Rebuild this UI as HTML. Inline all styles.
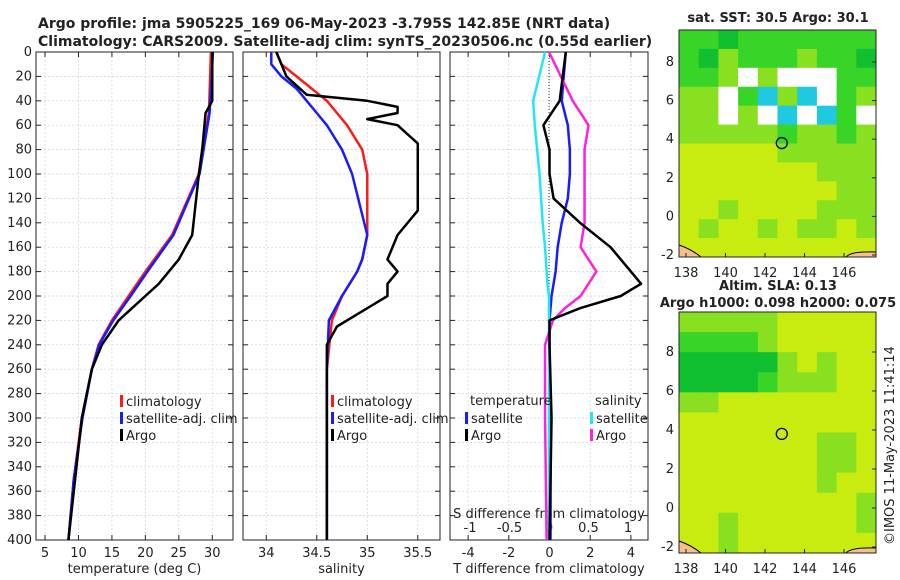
<!DOCTYPE html>
<html><head><meta charset="utf-8"><style>
html,body{margin:0;background:#fff;overflow:hidden;width:900px;height:580px;}
svg{font-family:"DejaVu Sans","Liberation Sans",sans-serif;display:block;}
</style></head><body>
<svg id="c" width="900" height="580" xmlns="http://www.w3.org/2000/svg"></svg>
<script>
// ---- data ----
const depthsT=[0,40,50,80,100,150,170,190,200,220,240,260,300,400];
const tempArgo=[30,30,29,28.5,28,27,25,22,20,16,13.5,12,10.5,8.5];
const depthsC=[0,50,80,100,150,180,200,220,240,260,300,350,400];
const tempClim=[29.8,29.5,28.5,28,24,20,17.5,15,13,12,10.5,9.3,8.5];
const tempSat=[30.1,29.6,28.7,28.1,24.2,20.3,17.8,15.2,13.1,12,10.6,9.3,8.5];
const depthsSA=[0,20,35,40,45,50,55,60,75,100,130,150,170,180,190,200,215,225,240,260,280,320,400];
const salArgo=[34.1,34.2,34.4,35.0,35.3,35.3,35.0,35.3,35.5,35.5,35.5,35.3,35.2,35.3,35.2,35.2,34.9,34.7,34.6,34.6,34.6,34.6,34.6];
const depthsSC=[0,10,20,30,40,50,60,80,100,150,170,180,200,220,260,400];
const salClim=[34.1,34.15,34.3,34.45,34.6,34.7,34.8,34.95,35.0,35.0,34.95,34.9,34.75,34.65,34.6,34.6];
const salSat=[34.05,34.05,34.15,34.3,34.4,34.5,34.6,34.75,34.85,35.0,34.95,34.9,34.75,34.62,34.6,34.6];
const depthsD=[0,40,60,80,100,120,140,160,180,190,200,210,220,240,300,400];
const tdiffArgo=[0.8,0.5,-0.3,0,0,0.2,1.5,3,4,4.5,3.5,1.5,0,0,0.1,0];
const tdiffSat=[0.8,0.6,0.9,1.0,1.0,0.9,0.6,0.4,0.3,0.2,0.1,0.05,0,0,0.05,0.05];
const sdiffSat=[-0.05,-0.2,-0.18,-0.15,-0.12,-0.1,-0.08,-0.05,-0.03,-0.02,0,0,0,0,0,0];
const sdiffArgo=[0,0.3,0.5,0.45,0.45,0.45,0.45,0.4,0.6,0.5,0.4,0.2,0.05,-0.05,-0.05,-0.03];
const depthTicks=[0,20,40,60,80,100,120,140,160,180,200,220,240,260,280,300,320,340,360,380,400];
const tempTicks=[5,10,15,20,25,30];
const salTicks=[34,34.5,35,35.5];
const tdTicks=[-4,-2,0,2,4];
const sdTicks=[-1,-0.5,0,0.5,1];
const lonTicks=[138,140,142,144,146];
const latTicks=[-2,0,2,4,6,8];
// map cells (color class) rows top->bottom, cols west->east
const sstGrid=[
[2,2,1,2,2,2,2,2,2,2],[2,1,3,2,2,2,3,2,2,1],[2,2,3,0,3,0,0,0,2,2],[3,3,0,2,5,3,5,0,2,3],
[3,3,0,3,0,5,0,5,2,0],[3,3,3,3,3,2,3,3,2,3],[4,4,4,4,4,3,3,3,3,3],[4,4,4,4,4,4,4,3,3,3],
[4,4,4,4,4,4,4,4,3,3],[4,4,3,4,4,4,4,3,3,3],[4,3,4,4,3,4,3,3,4,3],[4,4,4,4,4,4,4,4,4,4]];
const slaGrid=[
[3,3,3,3,3,4,4,4,4,4],[2,2,2,2,3,4,4,4,4,4],[1,1,1,1,1,3,4,3,4,4],[1,1,1,1,2,3,3,3,4,4],
[3,3,4,4,4,4,4,4,4,4],[4,4,4,4,4,4,4,4,4,4],[4,4,4,4,4,4,4,3,3,4],[4,4,4,4,4,4,4,3,3,4],
[4,4,4,4,4,4,4,3,4,4],[4,4,4,4,4,4,4,4,4,3],[4,4,3,4,4,4,4,4,4,3],[4,4,3,4,4,4,4,4,4,4]];
const mapColors=["#ffffff","#10c030","#38d428","#88e020","#c8ec10","#20c8e0"];

const S=document.getElementById('c');const NS="http://www.w3.org/2000/svg";
function el(t,a,p){const e=document.createElementNS(NS,t);for(const k in a)e.setAttribute(k,a[k]);(p||S).appendChild(e);return e;}
function txt(x,y,s,o){const e=el('text',Object.assign({x:x,y:y,'font-size':13,fill:'#222'},o||{}));e.textContent=s;return e;}
const Y0=52,Y1=540;const yD=d=>Y0+(Y1-Y0)*d/400;
function panel(name,x0,x1,dmin,dmax,ticks,label,showY){
  const g=el('g',{});
  
  
  const xs=v=>x0+(x1-x0)*(v-dmin)/(dmax-dmin);
  for(const d of depthTicks){
    el('line',{x1:x0,x2:x1,y1:yD(d),y2:yD(d),stroke:'#c8d0e8','stroke-dasharray':'2,2','stroke-width':0.7},g);
    el('line',{x1:x0,x2:x0+5,y1:yD(d),y2:yD(d),stroke:'#222'},g);
    el('line',{x1:x1,x2:x1-5,y1:yD(d),y2:yD(d),stroke:'#222'},g);
    if(showY){const t=txt(x0-4,yD(d)+4,String(d),{'text-anchor':'end'});}
  }
  for(const v of ticks){
    el('line',{x1:xs(v),x2:xs(v),y1:Y0,y2:Y1,stroke:'#c8d0e8','stroke-dasharray':'2,2','stroke-width':0.7},g);
    el('line',{x1:xs(v),x2:xs(v),y1:Y1,y2:Y1-5,stroke:'#222'},g);
    el('line',{x1:xs(v),x2:xs(v),y1:Y0,y2:Y0+5,stroke:'#222'},g);
    const t=txt(xs(v),557,String(v),{'text-anchor':'middle'});
    
  }
  el('rect',{x:x0,y:Y0,width:x1-x0,height:Y1-Y0,fill:'none',stroke:'#222'},g);
  const l=txt((x0+x1)/2,573,label,{'text-anchor':'middle'});
  
  return xs;
}
function line(xs,vals,deps,col,w,name){
  const p=el('polyline',{points:vals.map((v,i)=>xs(v)+','+yD(deps[i])).join(' '),fill:'none',stroke:col,'stroke-width':w,'stroke-linejoin':'round'});
  
}
// titles
let t1=txt(38,28,'Argo profile: jma 5905225_169 06-May-2023 -3.795S 142.85E (NRT data)',{'font-weight':'bold','font-size':14});

let t2=txt(38,46,'Climatology: CARS2009. Satellite-adj clim: synTS_20230506.nc (0.55d earlier)',{'font-weight':'bold','font-size':14});


const xT=panel('temperature-panel',36,233,3.65,33.1,tempTicks,'temperature (deg C)',true);
line(xT,tempClim,depthsC,'#ff1a1a',2.5,'temp-climatology-line');
line(xT,tempSat,depthsC,'#1a1aff',2.5,'temp-satellite-line');
line(xT,tempArgo,depthsT,'#000',2.5,'temp-argo-line');
function legend(x,y,items,name){
  items.forEach((it,i)=>{
    const r=el('rect',{x:x,y:y+i*17-10,width:3,height:12,fill:it[1]});
    
    const t=txt(x+6,y+i*17+1,it[0]);
  });
}
legend(120,405,[['climatology','#ff1a1a'],['satellite-adj. clim','#1a1aff'],['Argo','#000']],'temp-legend');

const xS=panel('salinity-panel',243,440,33.77,35.72,salTicks,'salinity',false);
line(xS,salClim,depthsSC,'#ff1a1a',2.5,'sal-climatology-line');
line(xS,salSat,depthsSC,'#1a1aff',2.5,'sal-satellite-line');
line(xS,salArgo,depthsSA,'#000',2.5,'sal-argo-line');
legend(331,405,[['climatology','#ff1a1a'],['satellite-adj. clim','#1a1aff'],['Argo','#000']],'sal-legend');

const xD=panel('difference-panel',450,648,-4.89,4.84,tdTicks,'T difference from climatology',false);
const xSD=v=>549+79*v;
for(const v of sdTicks){const t=txt(xSD(v),532,String(v),{'text-anchor':'middle'});}
let sl=txt(549,518,'S difference from climatology',{'text-anchor':'middle'});
el('line',{x1:549,x2:549,y1:Y0,y2:Y1,stroke:'#333','stroke-dasharray':'1,2'});
line(xD,tdiffSat,depthsD,'#1a1aff',2.5,'tdiff-satellite-line');
line(xSD,sdiffSat,depthsD,'#20e8f0',2.5,'sdiff-satellite-line');
line(xSD,sdiffArgo,depthsD,'#ff20e0',2.5,'sdiff-argo-line');
line(xD,tdiffArgo,depthsD,'#000',2.5,'tdiff-argo-line');
let lt=txt(470,405,'temperature');
let ls=txt(595,405,'salinity');
legend(465,422,[['satellite','#1a1aff'],['Argo','#000']],'diff-legend-temp');
legend(590,422,[['satellite','#20e8f0'],['Argo','#ff20e0']],'diff-legend-sal');

function map(name,y0,y1,yLow,pxDeg,grid,title1,title2){
  const x0=679,x1=876;
  const g=el('g',{});
  const lonS=v=>686+(v-138)*19.75;
  const latS=v=>yLow-(v+2)*pxDeg;
  const rows=grid.length,cols=grid[0].length;const cw=(x1-x0)/cols,ch=(y1-y0)/rows;
  grid.forEach((r,i)=>r.forEach((c,j)=>{
    const rc=el('rect',{x:x0+j*cw,y:y0+i*ch,width:cw+0.5,height:ch+0.5,fill:mapColors[c]},g);
    
  }));
  el('path',{d:`M${x0} ${y1-12} Q${x0+12} ${y1-8} ${x0+22} ${y1} L${x0} ${y1}Z`,fill:'#f5c090',stroke:'#000'},g);
  el('path',{d:`M${x1-30} ${y1} Q${x1-25} ${y1-6} ${x1} ${y1-5} L${x1} ${y1}Z`,fill:'#f5c090',stroke:'#000'},g);
  el('circle',{cx:lonS(142.85),cy:latS(3.8),r:5.5,fill:'none',stroke:'#000','stroke-width':1.3},g);
  el('rect',{x:x0,y:y0,width:x1-x0,height:y1-y0,fill:'none',stroke:'#222'},g);
  for(const v of latTicks){const y=latS(v);el('line',{x1:x1,x2:x1-4,y1:y,y2:y,stroke:'#222'},g);
    const t=txt(x0-5,y+4,String(v),{'text-anchor':'end'});}
  for(const v of lonTicks){el('line',{x1:lonS(v),x2:lonS(v),y1:y1,y2:y1-4,stroke:'#222'},g);
    const t=txt(lonS(v),y1+20,String(v),{'text-anchor':'middle'});}
  let a=txt(778,title2?y0-22:y0-8,title1,{'text-anchor':'middle','font-weight':'bold'});
  if(title2){let b=txt(778,y0-5,title2,{'text-anchor':'middle','font-weight':'bold'});}
}
map('sst-map',30,257,255,19.3,sstGrid,'sat. SST: 30.5 Argo: 30.1');
map('sla-map',312,553,547,19.5,slaGrid,'Altim. SLA: 0.13','Argo h1000: 0.098 h2000: 0.075');
let ft=txt(0,0,'©IMOS 11-May-2023 11:41:14',{transform:'translate(894,545) rotate(-90)'});

</script>
</body></html>
